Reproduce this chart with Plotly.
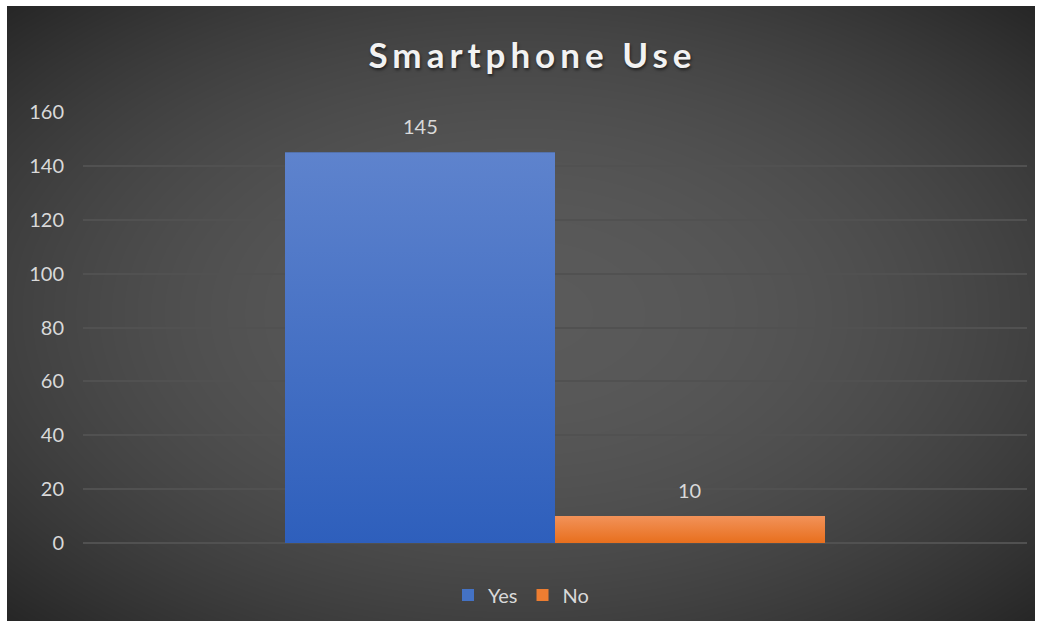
import numpy as np
import plotly.graph_objects as go

# Survey answers
categories = ["Yes", "No"]
counts = [145, 10]
bar_colors = ["#4472C4", "#ED7D31"]
bar_tops = ["#5E83CD", "#F29259"]
bar_bottoms = ["#2E5FBC", "#E86F1D"]
y_ticks = [0, 20, 40, 60, 80, 100, 120, 140, 160]

FONT = "Lato"
TEXT = "#D9D9D9"
BARGAP = 0.428

fig = go.Figure()

# Soft radial backdrop drawn as a smoothed heatmap on its own full-size axes
n = 80
gx, gy = np.meshgrid(np.linspace(0, 1, n), np.linspace(0, 1, n))
r2 = ((gx - 0.5) ** 2 + (gy - 0.5) ** 2) / 0.5
shade = 1 - r2
fig.add_trace(go.Heatmap(
    z=shade, x=np.linspace(0, 1, n), y=np.linspace(0, 1, n),
    colorscale=[[0, "#262626"], [1, "#5A5A5A"]], zmin=0, zmax=1,
    zsmooth="best", showscale=False, hoverinfo="skip",
    xaxis="x", yaxis="y",
))

# One bar per answer, side by side in a single group at x = 0
for name, val, col in zip(categories, counts, bar_colors):
    fig.add_trace(go.Bar(
        x=[0], y=[val], name=name, marker=dict(color=col, line=dict(width=0)),
        xaxis="x2", yaxis="y2", hoverinfo="skip",
    ))

# Vertical colour gradient laid over each bar, following the bar's own extent
group_w = 1 - BARGAP
half = group_w / len(categories)
for i, (val, top, bottom) in enumerate(zip(counts, bar_tops, bar_bottoms)):
    x0 = -group_w / 2 + i * half
    x1 = x0 + half
    fig.add_trace(go.Scatter(
        x=[x0, x1, x1, x0, x0], y=[0, 0, val, val, 0],
        mode="lines", line=dict(width=0), fill="toself",
        fillgradient=dict(type="vertical", start=0, stop=val,
                          colorscale=[[0, bottom], [1, top]]),
        xaxis="x2", yaxis="y2", hoverinfo="skip", showlegend=False,
    ))

    # value label above the bar
    fig.add_annotation(
        x=(x0 + x1) / 2, y=val, xref="x2", yref="y2", text=str(val),
        showarrow=False, yanchor="bottom", yshift=12,
        font=dict(family=FONT, size=20, color=TEXT),
    )

fig.update_layout(
    template="none",
    width=1040, height=626,
    margin=dict(l=7, r=5, t=6, b=5),
    paper_bgcolor="white", plot_bgcolor="rgba(0,0,0,0)",
    barmode="group", bargap=BARGAP, bargroupgap=0,
    title=dict(
        text='<span style="letter-spacing:5px">Smartphone Use</span>',
        x=0.512, xanchor="center", y=1 - 56 / 626, yanchor="middle",
        font=dict(family=FONT, size=35, color="#F2F2F2", weight="bold",
                  shadow="1px 2px 3px rgba(0,0,0,0.55)"),
    ),
    xaxis=dict(domain=[0, 1], range=[0, 1], visible=False, fixedrange=True,
               automargin=False),
    yaxis=dict(domain=[0, 1], range=[0, 1], visible=False, fixedrange=True,
               automargin=False),
    xaxis2=dict(domain=[76 / 1028, 1020 / 1028], anchor="y2",
                range=[-0.5, 0.5], showticklabels=False, showgrid=False,
                zeroline=False, showline=False, ticks="", automargin=False),
    yaxis2=dict(domain=[78 / 615, 509 / 615], anchor="x2", range=[0, 160],
                tickvals=y_ticks, showgrid=True, gridcolor="#515151",
                gridwidth=1.5, zeroline=True, zerolinecolor="#515151",
                zerolinewidth=1.5, showline=False, ticks="",
                ticklabelstandoff=18, automargin=False,
                tickfont=dict(family=FONT, size=20, color=TEXT)),
    showlegend=True,
    legend=dict(orientation="h", x=0.5, xanchor="center",
                y=26 / 615, yanchor="middle", bgcolor="rgba(0,0,0,0)",
                font=dict(family=FONT, size=20, color=TEXT),
                itemwidth=30, traceorder="normal"),
)

fig.write_html("out.html")
